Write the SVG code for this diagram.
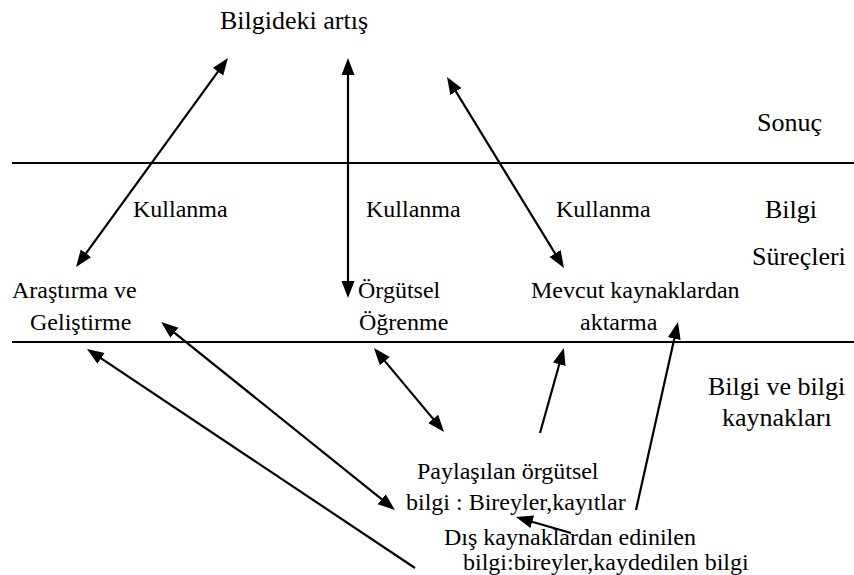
<svg xmlns="http://www.w3.org/2000/svg" width="854" height="575" viewBox="0 0 854 575">
  <style>
    text { font-family: "Times New Roman", "Liberation Serif", Tinos, "DejaVu Serif", serif; fill: #000; }
    .t { font-size: 24px; }
    .h { font-size: 26px; }
    .rule { stroke: #000; stroke-width: 2; }
    .arrow { stroke: #000; stroke-width: 2.2; fill: none; }
    .one { marker-end: url(#head); }
    .two { marker-start: url(#head); marker-end: url(#head); }
  </style>
  <defs>
    <marker id="head" markerUnits="userSpaceOnUse" markerWidth="18" markerHeight="14" refX="13" refY="6.5" orient="auto-start-reverse">
      <path d="M0,0 L17,6.5 L0,13 z" fill="#000"/>
    </marker>
  </defs>

  <rect width="854" height="575" fill="#fff"/>

  <!-- layer boundaries -->
  <g id="rules">
    <line class="rule" x1="12" y1="163" x2="854" y2="163"/>
    <line class="rule" x1="12" y1="342" x2="854" y2="342"/>
  </g>

  <!-- layer titles on the right -->
  <g id="layer-sonuc"><text class="h" x="757" y="131">Sonuç</text></g>
  <g id="layer-surecler">
    <text class="h" x="765" y="218">Bilgi</text>
    <text class="h" x="752" y="265">Süreçleri</text>
  </g>
  <g id="layer-kaynaklar">
    <text class="h" x="708" y="395">Bilgi ve bilgi</text>
    <text class="h" x="722" y="426">kaynakları</text>
  </g>

  <!-- nodes -->
  <g id="node-artis"><text class="h" x="220" y="29">Bilgideki artış</text></g>

  <g id="node-kullanma-1"><text class="t" x="133" y="217">Kullanma</text></g>
  <g id="node-kullanma-2"><text class="t" x="366" y="217">Kullanma</text></g>
  <g id="node-kullanma-3"><text class="t" x="556" y="217">Kullanma</text></g>

  <g id="node-arge">
    <text class="t" x="12" y="298">Araştırma ve</text>
    <text class="t" x="30" y="330">Geliştirme</text>
  </g>
  <g id="node-ogrenme">
    <text class="t" x="358" y="298">Örgütsel</text>
    <text class="t" x="359" y="330">Öğrenme</text>
  </g>
  <g id="node-aktarma">
    <text class="t" x="531" y="298">Mevcut kaynaklardan</text>
    <text class="t" x="580" y="330">aktarma</text>
  </g>

  <g id="node-paylasilan">
    <text class="t" x="417" y="479">Paylaşılan örgütsel</text>
    <text class="t" x="406" y="510">bilgi : Bireyler,kayıtlar</text>
  </g>
  <g id="node-dis">
    <text class="t" x="444" y="545">Dış kaynaklardan edinilen</text>
    <text class="t" x="463" y="570">bilgi:bireyler,kaydedilen bilgi</text>
  </g>

  <!-- connectors -->
  <g id="connectors">
    <line class="arrow two" x1="78.4" y1="263.8" x2="225.6" y2="61.2"/>
    <line class="arrow two" x1="348" y1="62" x2="348" y2="294"/>
    <line class="arrow two" x1="449.1" y1="80.4" x2="561.9" y2="264.6"/>
    <line class="arrow two" x1="164.3" y1="324.6" x2="391.8" y2="507.4"/>
    <line class="arrow one" x1="415" y1="568" x2="90.3" y2="351.2"/>
    <line class="arrow two" x1="376.5" y1="351.1" x2="441.5" y2="428.9"/>
    <line class="arrow one" x1="540" y1="433" x2="562.8" y2="351.8"/>
    <line class="arrow one" x1="636" y1="510" x2="677.1" y2="325.9"/>
    <line class="arrow one" x1="571" y1="533" x2="519.8" y2="518.2"/>
  </g>
</svg>
